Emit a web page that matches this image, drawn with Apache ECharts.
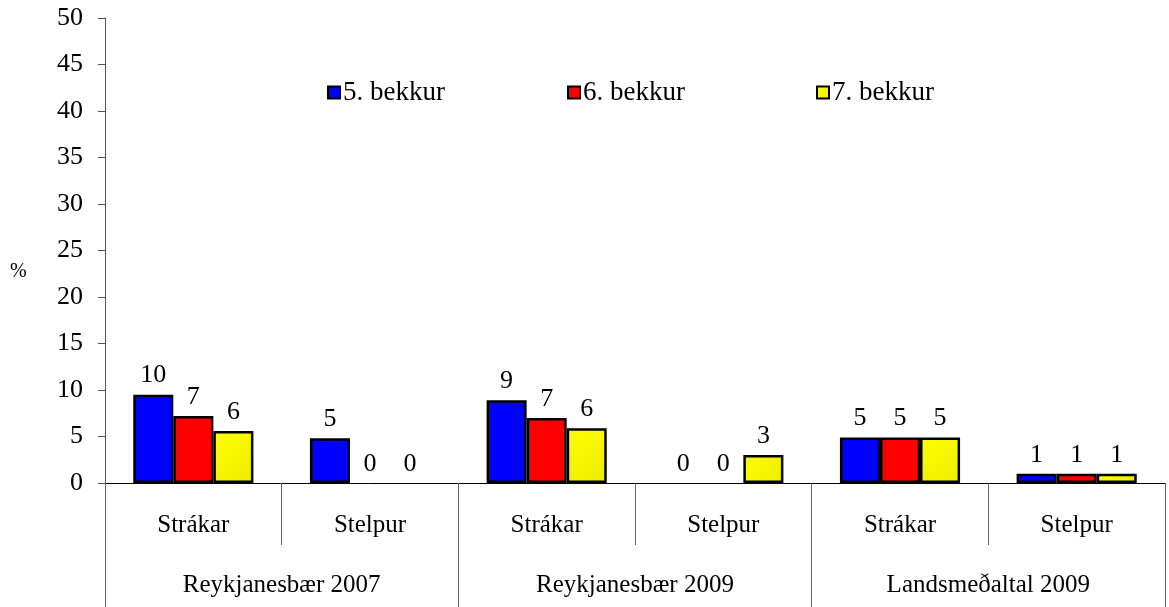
<!DOCTYPE html>
<html>
<head>
<meta charset="utf-8">
<script src="https://cdn.jsdelivr.net/npm/echarts@6/dist/echarts.min.js"></script>
<style>
  html, body { margin: 0; padding: 0; background: #fff; }
  #chart { width: 1169px; height: 607px; }
</style>
</head>
<body>
<div id="chart"></div>
<script>
// sub categories and groups
const subCats = ['Strákar', 'Stelpur', 'Strákar', 'Stelpur', 'Strákar', 'Stelpur'];
const groups = ['Reykjanesbær 2007', 'Reykjanesbær 2009', 'Landsmeðaltal 2009'];
const seriesNames = ['5. bekkur', '6. bekkur', '7. bekkur'];
// values
const bekkur5 = [9.5, 4.8, 8.9, 0, 4.9, 1.0];
const bekkur6 = [7.2, 0, 7.0, 0, 4.9, 1.0];
const bekkur7 = [5.6, 0, 5.9, 3.0, 4.9, 1.0];

const font = 'Liberation Serif';
const chart = echarts.init(document.getElementById('chart'));

const fills = [
  '#0000ff',
  '#ff0000',
  new echarts.graphic.LinearGradient(0, 0, 1, 1, [
    { offset: 0, color: '#ffff00' },
    { offset: 1, color: '#ecec00' }
  ])
];
const legendLeft = [322, 562, 811];

// zero bars have no visible outline in the original
const makeSeries = (name, data, i) => ({
  name: name,
  type: 'bar',
  data: data.map(v => (v === 0 ? { value: 0, itemStyle: { borderWidth: 0 } } : v)),
  barGap: '0%',
  barCategoryGap: '32%',
  itemStyle: { color: fills[i], borderColor: '#000', borderWidth: 2.5 },
  label: {
    show: true,
    position: 'top',
    distance: 6,
    fontFamily: font,
    fontSize: 26,
    color: '#000',
    formatter: (p) => String(Math.round(p.value))
  }
});

const option = {
  animation: false,
  textStyle: { fontFamily: font },
  legend: seriesNames.map((n, i) => ({
    data: [n],
    left: legendLeft[i],
    top: 74,
    icon: 'rect',
    itemWidth: 12,
    itemHeight: 12,
    itemGap: 2,
    textStyle: { fontFamily: font, fontSize: 27, color: '#000', padding: [0, 0, 0, -2] },
    itemStyle: { borderColor: '#000', borderWidth: 2 }
  })),
  grid: { left: 105, right: 4, top: 18, bottom: 124 },
  xAxis: [
    {
      type: 'category',
      data: subCats,
      axisLine: { show: true, lineStyle: { color: '#000', width: 1 } },
      axisTick: { show: true, interval: 0, length: 62, lineStyle: { color: '#666' } },
      axisLabel: { interval: 0, margin: 30, fontFamily: font, fontSize: 25, color: '#000' }
    },
    {
      type: 'category',
      data: groups,
      position: 'bottom',
      axisLine: { show: false },
      axisTick: { show: true, interval: 0, length: 124, lineStyle: { color: '#666' } },
      axisLabel: { interval: 0, margin: 90, fontFamily: font, fontSize: 25, color: '#000' }
    }
  ],
  yAxis: {
    type: 'value',
    min: 0,
    max: 50,
    interval: 5,
    axisLine: { show: true, lineStyle: { color: '#555' } },
    axisTick: { show: true, length: 7, lineStyle: { color: '#555' } },
    splitLine: { show: false },
    axisLabel: { fontFamily: font, fontSize: 26, color: '#000', margin: 22 }
  },
  graphic: [{
    type: 'text',
    left: 10,
    top: 262,
    style: { text: '%', fontFamily: font, fontSize: 20, fill: '#000' }
  }],
  series: [
    makeSeries(seriesNames[0], bekkur5, 0),
    makeSeries(seriesNames[1], bekkur6, 1),
    makeSeries(seriesNames[2], bekkur7, 2)
  ]
};
chart.setOption(option);
</script>
</body>
</html>
